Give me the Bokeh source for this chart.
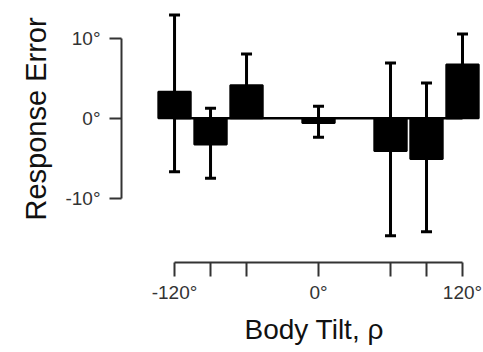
from bokeh.plotting import figure
from bokeh.models import ColumnDataSource, Whisker, TeeHead, FixedTicker, Range1d, Title
from bokeh.embed import file_html
from bokeh.resources import INLINE

# Data (degrees)
tilt = [-120, -90, -60, 0, 60, 90, 120]
error = [3.3, -3.3, 4.1, -0.6, -4.1, -5.1, 6.7]
err_upper = [12.9, 1.25, 8.0, 1.5, 6.9, 4.4, 10.5]
err_lower = [-6.7, -7.5, 0.2, -2.4, -14.7, -14.2, 2.9]
x_ticks = [-120, -90, -60, 0, 60, 90, 120]
x_tick_labels = {-120: "-120°", -90: "", -60: "", 0: "0°", 60: "", 90: "", 120: "120°"}
y_ticks = [-10, 0, 10]
y_tick_labels = {-10: "-10°", 0: "0°", 10: "10°"}
x_title = "Body Tilt, ρ"
y_title = "Response Error"

src = ColumnDataSource(dict(x=tilt, y=error, up=err_upper, lo=err_lower))

p = figure(width=483, height=352, output_backend="svg", toolbar_location=None,
           x_range=Range1d(-164.2, 137.5), y_range=Range1d(-18.04, 14.7),
           min_border_left=121, min_border_right=0, min_border_top=0, min_border_bottom=90)
p.outline_line_color = None
p.grid.grid_line_color = None
p.background_fill_color = "white"

wh = Whisker(source=src, base="x", upper="up", lower="lo", line_width=3, line_color="black",
             upper_head=TeeHead(size=11, line_width=3, line_color="black"),
             lower_head=TeeHead(size=11, line_width=3, line_color="black"))
p.add_layout(wh)

p.line(x=[tilt[0], tilt[-1]], y=[0, 0], line_color="black", line_width=2.5)
p.vbar(x="x", top="y", bottom=0, width=27, source=src, fill_color="black",
       line_color="black", line_width=2)

ax = p.xaxis[0]
ax.ticker = FixedTicker(ticks=x_ticks)
ax.major_label_overrides = x_tick_labels
ax.bounds = (-120, 120)
ax.minor_tick_line_color = None
ax.major_tick_in = 0
ax.major_tick_out = 14
ax.axis_line_width = 2
ax.major_tick_line_width = 2
ax.axis_line_color = "#333333"
ax.major_tick_line_color = "#333333"
ax.major_label_text_font = "Liberation Sans"
ax.major_label_text_font_size = "19px"
ax.major_label_text_color = "#333333"
ax.major_label_standoff = 5

ay = p.yaxis[0]
ay.ticker = FixedTicker(ticks=y_ticks)
ay.major_label_overrides = y_tick_labels
ay.bounds = (-10, 10)
ay.minor_tick_line_color = None
ay.major_tick_in = 0
ay.major_tick_out = 12
ay.axis_line_width = 2
ay.major_tick_line_width = 2
ay.axis_line_color = "#333333"
ay.major_tick_line_color = "#333333"
ay.major_label_text_font = "Liberation Sans"
ay.major_label_text_font_size = "19px"
ay.major_label_text_color = "#333333"
ay.major_label_standoff = 9
ay.major_label_orientation = "horizontal"

p.add_layout(Title(text=x_title, align="left", offset=123, standoff=12,
                   text_font="Liberation Sans", text_font_size="28px",
                   text_font_style="normal", text_color="#111111"), "below")
p.add_layout(Title(text=y_title, align="left", offset=42, standoff=22,
                   text_font="Liberation Sans", text_font_size="29px",
                   text_font_style="normal", text_color="#111111"), "left")

open("out.html", "w").write(file_html(p, INLINE))
